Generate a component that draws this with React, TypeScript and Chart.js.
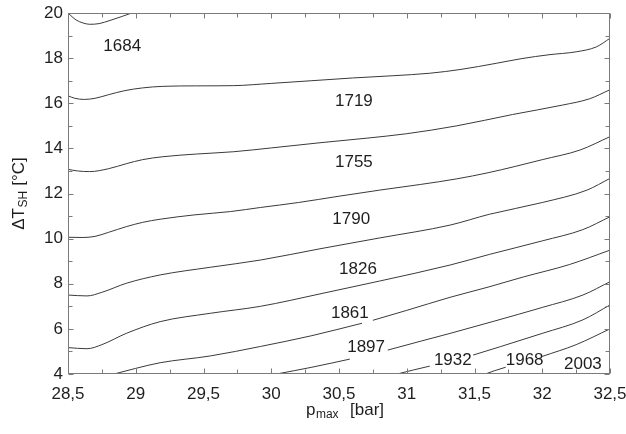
import React, { useEffect, useRef } from "react";
import { Chart, registerables } from "chart.js";

Chart.register(...registerables);

// ---- axis ticks ----
const X_TICKS = [28.5, 29, 29.5, 30, 30.5, 31, 31.5, 32, 32.5];
const Y_TICKS = [4, 6, 8, 10, 12, 14, 16, 18, 20];

// ---- contour lines (x = p_max [bar], y = ΔT_SH [°C]); null = gap for inline label ----
const lineA_x = [28.5, 28.56, 28.61, 28.66, 28.73, 28.81, 28.9, 28.97];
const lineA_y = [20.0, 19.69, 19.56, 19.5, 19.53, 19.67, 19.85, 20.0];

const lineB_x = [28.5, 28.55, 28.62, 28.7, 28.8, 28.92, 29.05, 29.2, 29.45, 29.72, 30.0, 30.3, 30.6, 30.9, 31.17, 31.4, 31.66, 31.85, 32.05, 32.25, 32.4, 32.5];
const lineB_y = [16.33, 16.22, 16.17, 16.22, 16.38, 16.56, 16.68, 16.75, 16.77, 16.78, 16.88, 17.0, 17.12, 17.22, 17.33, 17.5, 17.77, 17.98, 18.15, 18.28, 18.5, 18.88];

const lineC_x = [28.5, 28.57, 28.66, 28.8, 28.93, 29.05, 29.2, 29.45, 29.72, 30.0, 30.36, 30.7, 31.0, 31.37, 31.78, 32.15, 32.35, 32.5];
const lineC_y = [13.07, 13.0, 12.97, 13.1, 13.32, 13.5, 13.63, 13.75, 13.85, 14.02, 14.25, 14.45, 14.65, 15.0, 15.5, 15.92, 16.2, 16.6];

const lineD_x = [28.5, 28.61, 28.7, 28.8, 28.93, 29.05, 29.18, 29.43, 29.7, 29.92, 30.2, 30.5, 30.8, 31.1, 31.37, 31.6, 31.8, 32.0, 32.28, 32.5];
const lineD_y = [10.06, 10.05, 10.1, 10.28, 10.53, 10.72, 10.86, 11.05, 11.2, 11.38, 11.6, 11.88, 12.15, 12.4, 12.65, 12.92, 13.2, 13.5, 13.93, 14.52];

const lineE_x = [28.5, 28.64, 28.75, 28.93, 29.18, 29.55, 29.92, 30.36, 30.8, 31.32, 31.61, 32.0, 32.33, 32.5];
const lineE_y = [7.5, 7.46, 7.62, 8.02, 8.39, 8.73, 9.05, 9.55, 10.03, 10.6, 11.08, 11.6, 12.15, 12.67];

const lineF_x = [28.5, 28.64, 28.75, 28.93, 29.18, 29.55, 29.92, 30.36, 30.8, 31.32, 31.61, 32.0, 32.3, 32.5];
const lineF_y = [5.17, 5.12, 5.3, 5.8, 6.32, 6.69, 7.0, 7.55, 8.12, 8.83, 9.3, 9.9, 10.4, 10.97];

const lineG_x = [28.84, 29.0, 29.18, 29.55, 29.92, 30.3, 30.67, 30.71, 30.75, 31.0, 31.32, 31.6, 31.86, 32.2, 32.5];
const lineG_y = [4.0, 4.25, 4.5, 4.8, 5.22, 5.7, 6.25, null, 6.38, 6.82, 7.4, 7.85, 8.3, 8.85, 9.49];

const lineH_x = [30.04, 30.3, 30.58, 30.7, 30.86, 31.1, 31.32, 31.65, 32.0, 32.3, 32.5];
const lineH_y = [4.0, 4.3, 4.66, null, 5.06, 5.45, 5.8, 6.35, 6.95, 7.5, 8.09];

const lineI_x = [30.93, 31.05, 31.17, 31.33, 31.49, 31.69, 32.0, 32.3, 32.5];
const lineI_y = [4.0, 4.18, 4.35, null, 4.84, 5.21, 5.8, 6.4, 7.06];

const lineJ_x = [31.58, 31.65, 31.73, 31.86, 32.0, 32.25, 32.5];
const lineJ_y = [4.0, 4.15, 4.3, null, 4.78, 5.3, 6.0];

// ---- contour labels ----
const LABEL_TEXT = ["1684", "1719", "1755", "1790", "1826", "1861", "1897", "1932", "1968", "2003"];
const LABEL_X = [28.9, 30.61, 30.61, 30.59, 30.64, 30.58, 30.7, 31.34, 31.87, 32.3];
const LABEL_Y = [18.54, 16.1, 13.37, 10.87, 8.65, 6.7, 5.17, 4.62, 4.62, 4.44];

const FONT = "'Liberation Sans', Arial, Helvetica, sans-serif";
const TEXT_COLOR = "#1e1e1e";
const AXIS_COLOR = "#7a7a7a";
const LINE_COLOR = "#3a3a3a";

const LINES: [number[], (number | null)[]][] = [
  [lineA_x, lineA_y],
  [lineB_x, lineB_y],
  [lineC_x, lineC_y],
  [lineD_x, lineD_y],
  [lineE_x, lineE_y],
  [lineF_x, lineF_y],
  [lineG_x, lineG_y],
  [lineH_x, lineH_y],
  [lineI_x, lineI_y],
  [lineJ_x, lineJ_y],
];

const mids = (arr: number[]) => arr.slice(1).map((v, i) => (v + arr[i]) / 2);

const overlayPlugin = {
  id: "overlay",
  afterDatasetsDraw(chart: any) {
    const { ctx, chartArea: a, scales } = chart;
    const xs = scales.x;
    const ys = scales.y;
    ctx.save();
    // contour labels
    ctx.font = `17px ${FONT}`;
    ctx.fillStyle = TEXT_COLOR;
    ctx.textAlign = "center";
    ctx.textBaseline = "middle";
    LABEL_TEXT.forEach((t, i) => {
      ctx.fillText(t, xs.getPixelForValue(LABEL_X[i]), ys.getPixelForValue(LABEL_Y[i]));
    });
    // frame
    const L = Math.round(a.left) + 0.5;
    const R = Math.round(a.right) - 0.5;
    const T = Math.round(a.top) + 0.5;
    const B = Math.round(a.bottom) - 0.5;
    ctx.strokeStyle = AXIS_COLOR;
    ctx.lineWidth = 1;
    ctx.strokeRect(L, T, R - L, B - T);
    // inward ticks
    const MAJ = 5;
    const MIN = 4;
    ctx.beginPath();
    const xTick = (v: number, len: number) => {
      const px = Math.round(xs.getPixelForValue(v)) + 0.5;
      ctx.moveTo(px, B);
      ctx.lineTo(px, B - len);
      ctx.moveTo(px, T);
      ctx.lineTo(px, T + len);
    };
    const yTick = (v: number, len: number) => {
      const py = Math.round(ys.getPixelForValue(v)) + 0.5;
      ctx.moveTo(L, py);
      ctx.lineTo(L + len, py);
      ctx.moveTo(R, py);
      ctx.lineTo(R - len, py);
    };
    X_TICKS.forEach((v) => xTick(v, MAJ));
    mids(X_TICKS).forEach((v) => xTick(v, MIN));
    Y_TICKS.forEach((v) => yTick(v, MAJ));
    mids(Y_TICKS).forEach((v) => yTick(v, MIN));
    ctx.stroke();
    ctx.restore();
  },
  afterDraw(chart: any) {
    const { ctx, chartArea: a } = chart;
    ctx.save();
    ctx.fillStyle = TEXT_COLOR;
    ctx.textAlign = "left";
    ctx.textBaseline = "alphabetic";
    const big = `17px ${FONT}`;
    const small = `12px ${FONT}`;
    // x title: p_max [bar]
    ctx.font = big;
    const wP = ctx.measureText("p").width;
    const wB = ctx.measureText("[bar]").width;
    ctx.font = small;
    const wM = ctx.measureText("max").width;
    const gap = 12;
    const totX = wP + wM + gap + wB;
    const x0 = (a.left + a.right) / 2 + 6 - totX / 2;
    const by = 415;
    ctx.font = big;
    ctx.fillText("p", x0, by);
    ctx.font = small;
    ctx.fillText("max", x0 + wP + 0.5, by + 3);
    ctx.font = big;
    ctx.fillText("[bar]", x0 + wP + wM + gap, by);
    // y title: ΔT_SH [°C]
    ctx.font = big;
    const wD = ctx.measureText("ΔT").width;
    const wC = ctx.measureText(" [°C]").width;
    ctx.font = small;
    const wS = ctx.measureText("SH").width;
    const totY = wD + wS + wC;
    ctx.translate(24, 194);
    ctx.rotate(-Math.PI / 2);
    const s = -totY / 2;
    ctx.font = big;
    ctx.fillText("ΔT", s, 0);
    ctx.font = small;
    ctx.fillText("SH", s + wD + 0.5, 3);
    ctx.font = big;
    ctx.fillText(" [°C]", s + wD + wS + 1, 0);
    ctx.restore();
  },
};

export default function App() {
  const ref = useRef<HTMLCanvasElement | null>(null);
  useEffect(() => {
    if (!ref.current) return;
    const datasets = LINES.map(([xs, ys], k) => ({
      label: "c" + k,
      data: xs.map((x, i) => ({ x, y: ys[i] })),
      borderColor: LINE_COLOR,
      borderWidth: 1,
      pointRadius: 0,
      fill: false,
      spanGaps: false,
      cubicInterpolationMode: "monotone" as const,
    }));
    const chart = new Chart(ref.current, {
      type: "line",
      data: { datasets },
      plugins: [overlayPlugin],
      options: {
        animation: false,
        responsive: false,
        devicePixelRatio: 1,
        layout: { padding: { top: 13, right: 16, bottom: 0, left: 0 } },
        plugins: { legend: { display: false }, tooltip: { enabled: false } },
        scales: {
          x: {
            type: "linear",
            min: 28.5,
            max: 32.5,
            afterBuildTicks: (s: any) => {
              s.ticks = X_TICKS.map((v) => ({ value: v }));
            },
            afterFit: (s: any) => {
              s.height = 60;
              s.paddingLeft = 0;
              s.paddingRight = 0;
            },
            grid: { display: false, drawTicks: false },
            border: { display: false },
            ticks: {
              autoSkip: false,
              maxRotation: 0,
              padding: 10,
              color: TEXT_COLOR,
              font: { family: FONT, size: 17 },
              callback: (v: any) => String(v).replace(".", ","),
            },
          },
          y: {
            type: "linear",
            min: 4,
            max: 20,
            afterBuildTicks: (s: any) => {
              s.ticks = Y_TICKS.map((v) => ({ value: v }));
            },
            afterFit: (s: any) => {
              s.width = 68;
              s.paddingTop = 0;
              s.paddingBottom = 0;
            },
            grid: { display: false, drawTicks: false },
            border: { display: false },
            ticks: {
              padding: 5,
              color: TEXT_COLOR,
              font: { family: FONT, size: 17 },
              callback: (v: any) => String(v),
            },
          },
        },
      },
    } as any);
    return () => chart.destroy();
  }, []);
  return (
    <div style={{ position: "absolute", left: 0, top: 0, width: 626, height: 434, background: "#fff" }}>
      <canvas ref={ref} width={626} height={434} style={{ display: "block" }} />
    </div>
  );
}
